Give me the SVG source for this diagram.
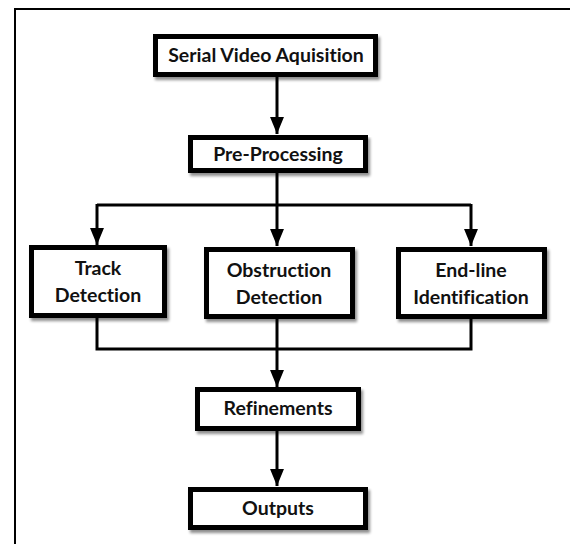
<svg xmlns="http://www.w3.org/2000/svg" width="570" height="544" viewBox="0 0 570 544">
  <style>
    .box { fill: #ffffff; stroke: #000000; stroke-width: 5; filter: url(#shadow); }
    .lbl { font-family: Lato, "Open Sans", "Liberation Sans", sans-serif; font-weight: bold; font-size: 19.5px; fill: #111111; text-anchor: middle; font-variant-ligatures: none; }
    .wire { fill: none; stroke: #000000; stroke-width: 3; }
    .arrow { fill: none; stroke: #000000; stroke-width: 3; marker-end: url(#head); }
    .frame { fill: none; stroke: #000000; stroke-width: 2; }
  </style>
  <defs>
    <marker id="head" markerUnits="userSpaceOnUse" markerWidth="17" markerHeight="22" refX="22" refY="9" orient="auto" viewBox="0 0 22 18">
      <path d="M0,0 L22,9 L0,18 Z" fill="#000000"/>
    </marker>
    <filter id="shadow" x="-10%" y="-10%" width="125%" height="135%">
      <feGaussianBlur in="SourceAlpha" stdDeviation="1.5"/>
      <feOffset dx="2" dy="3" result="b"/>
      <feComponentTransfer><feFuncA type="linear" slope="0.45"/></feComponentTransfer>
      <feMerge><feMergeNode/><feMergeNode in="SourceGraphic"/></feMerge>
    </filter>
  </defs>
  <rect x="0" y="0" width="570" height="544" fill="#ffffff"/>
  <path class="frame" d="M15,544 V9 H570"/>

  <g id="connectors">
    <path class="arrow" d="M277,77 V134"/>
    <path class="wire" d="M277,173 V205"/>
    <path class="wire" d="M97,205 H471"/>
    <path class="arrow" d="M97,204 V245"/>
    <path class="arrow" d="M277,205 V246"/>
    <path class="arrow" d="M471,204 V246"/>
    <path class="wire" d="M97,318 V349 H471 V318"/>
    <path class="arrow" d="M277,319 V387"/>
    <path class="arrow" d="M277,430 V486"/>
  </g>

  <g id="n-serial">
    <rect class="box" x="155.5" y="36.5" width="220" height="38"/>
    <text class="lbl" x="266" y="62">Serial Video Aquisition</text>
  </g>
  <g id="n-pre">
    <rect class="box" x="190.5" y="137.5" width="175" height="33"/>
    <text class="lbl" x="278" y="161">Pre-Processing</text>
  </g>
  <g id="n-track">
    <rect class="box" x="31.5" y="247.5" width="133" height="68"/>
    <text class="lbl" x="98" y="275">Track</text>
    <text class="lbl" x="98" y="302">Detection</text>
  </g>
  <g id="n-obstruction">
    <rect class="box" x="206.5" y="249.5" width="146" height="67"/>
    <text class="lbl" x="279" y="277">Obstruction</text>
    <text class="lbl" x="279" y="304">Detection</text>
  </g>
  <g id="n-endline">
    <rect class="box" x="398.5" y="249.5" width="146" height="67"/>
    <text class="lbl" x="471" y="277">End-line</text>
    <text class="lbl" x="471" y="304">Identification</text>
  </g>
  <g id="n-refinements">
    <rect class="box" x="197.5" y="389.5" width="161" height="39"/>
    <text class="lbl" x="278" y="415">Refinements</text>
  </g>
  <g id="n-outputs">
    <rect class="box" x="190.5" y="489.5" width="175" height="38"/>
    <text class="lbl" x="278" y="515">Outputs</text>
  </g>
</svg>
